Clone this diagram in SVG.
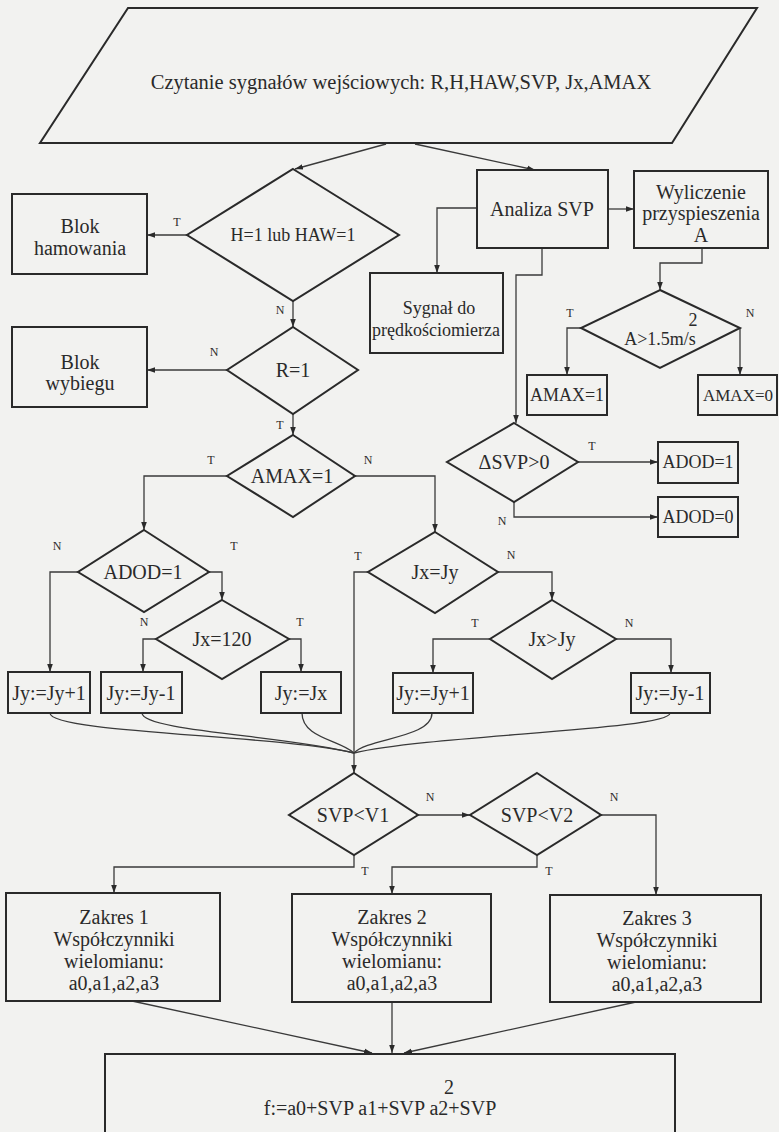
<svg xmlns="http://www.w3.org/2000/svg" width="779" height="1132" viewBox="0 0 779 1132">
<style>
.s{fill:none;stroke:#2a2a2a;stroke-width:2}
.c{fill:none;stroke:#3a3a3a;stroke-width:1.3}
.a{marker-end:url(#ah)}
text{font-family:"Liberation Serif","Times New Roman",serif;fill:#2a2a2a;text-anchor:middle;dominant-baseline:central}
.t{font-size:20px}
.m{font-size:18px}
.l{font-size:12px}
</style>
<defs>
<marker id="ah" viewBox="0 0 10 10" refX="10" refY="5" markerWidth="8" markerHeight="8" markerUnits="userSpaceOnUse" orient="auto">
<path d="M0,1.5 L10,5 L0,8.5 z" fill="#2a2a2a"/>
</marker>
</defs>
<rect width="779" height="1132" fill="#f2f2f0"/>

<g id="connectors">
<path class="c a" d="M386,144 L295,169"/>
<path class="c a" d="M415,144 L535,170"/>
<path class="c a" d="M187,235 L147,235"/>
<path class="c a" d="M293,301 L293,327"/>
<path class="c a" d="M227,370 L147,370"/>
<path class="c a" d="M293,414 L293,435"/>
<path class="c a" d="M227,476 L144,476 L144,530"/>
<path class="c a" d="M355,476 L435,476 L435,532"/>
<path class="c a" d="M78,572 L50,572 L50,672"/>
<path class="c a" d="M209,572 L222,572 L222,600"/>
<path class="c a" d="M156,639 L143,639 L143,672"/>
<path class="c a" d="M289,639 L301,639 L301,672"/>
<path class="c a" d="M368,572 L354,572 L354,773"/>
<path class="c a" d="M498,572 L552,572 L552,600"/>
<path class="c a" d="M490,639 L433,639 L433,673"/>
<path class="c a" d="M616,639 L671,639 L671,673"/>
<path class="c" d="M50,713 C50,733 280,735 354,753"/>
<path class="c" d="M142,713 C142,731 290,736 354,753"/>
<path class="c" d="M302,713 C302,738 340,740 354,753"/>
<path class="c" d="M432,713 C432,738 368,738 354,753"/>
<path class="c" d="M670,713 C670,730 430,735 354,753"/>
<path class="c a" d="M418,815 L470,815"/>
<path class="c a" d="M601,815 L656,815 L656,895"/>
<path class="c a" d="M354,855 L354,867 L114,867 L114,893"/>
<path class="c a" d="M537,855 L537,867 L392,867 L392,894"/>
<path class="c a" d="M132,1001 L372,1053"/>
<path class="c a" d="M392,1002 L392,1053"/>
<path class="c a" d="M636,1002 L404,1053"/>
<path class="c a" d="M477,208 L437,208 L437,273"/>
<path class="c a" d="M542,248 L542,275 L516,275 L516,423"/>
<path class="c a" d="M608,209 L634,209"/>
<path class="c a" d="M702,248 L702,263 L660,263 L660,290"/>
<path class="c a" d="M581,328 L567,328 L567,375"/>
<path class="c a" d="M740,328 L740,375"/>
<path class="c a" d="M578,462 L658,462"/>
<path class="c a" d="M514,502 L514,517 L658,517"/>
<text class="l" x="177" y="222">T</text>
<text class="l" x="280" y="310">N</text>
<text class="l" x="214" y="352">N</text>
<text class="l" x="280" y="425">T</text>
<text class="l" x="211" y="460">T</text>
<text class="l" x="368" y="460">N</text>
<text class="l" x="57" y="546">N</text>
<text class="l" x="234" y="546">T</text>
<text class="l" x="144" y="622">N</text>
<text class="l" x="300" y="622">T</text>
<text class="l" x="358" y="556">T</text>
<text class="l" x="511" y="555">N</text>
<text class="l" x="475" y="623">T</text>
<text class="l" x="629" y="623">N</text>
<text class="l" x="430" y="797">N</text>
<text class="l" x="614" y="797">N</text>
<text class="l" x="365" y="871">T</text>
<text class="l" x="549" y="871">T</text>
<text class="l" x="570" y="313">T</text>
<text class="l" x="750" y="313">N</text>
<text class="l" x="592" y="446">T</text>
<text class="l" x="502" y="521">N</text>
</g>

<g id="input">
<polygon class="s" points="128,8 757,8 672,143 40,143"/>
<text class="t" x="401" y="82" style="font-size:20.5px">Czytanie sygnałów wejściowych: R,H,HAW,SVP, Jx,AMAX</text>
</g>
<g id="d_h">
<polygon class="s" points="293,169 399,235 293,301 187,235"/>
<text class="m" x="293" y="235">H=1 lub HAW=1</text>
</g>
<g id="b_hamowania">
<rect class="s" x="12" y="194" width="135" height="80"/>
<text class="t" x="80" y="226">Blok</text>
<text class="t" x="80" y="248">hamowania</text>
</g>
<g id="b_analiza">
<rect class="s" x="477" y="170" width="131" height="78"/>
<text class="t" x="542" y="209">Analiza SVP</text>
</g>
<g id="b_wyliczenie">
<rect class="s" x="634" y="171" width="134" height="77"/>
<text class="t" x="701" y="192">Wyliczenie</text>
<text class="t" x="701" y="213">przyspieszenia</text>
<text class="t" x="701" y="235">A</text>
</g>
<g id="b_sygnal">
<rect class="s" x="370" y="273" width="133" height="80"/>
<text class="m" x="439" y="308">Sygnał do</text>
<text class="m" x="436" y="330">prędkościomierza</text>
</g>
<g id="d_a">
<polygon class="s" points="660,290 740,328 660,368 581,328"/>
<text class="m" x="693" y="320">2</text>
<text class="m" x="660" y="339">A&gt;1.5m/s</text>
</g>
<g id="b_amax1">
<rect class="s" x="527" y="375" width="80" height="40"/>
<text class="m" x="567" y="395">AMAX=1</text>
</g>
<g id="b_amax0">
<rect class="s" x="698" y="375" width="79" height="40"/>
<text class="m" x="738" y="395" style="font-size:17px">AMAX=0</text>
</g>
<g id="d_r">
<polygon class="s" points="293,327 358,370 293,414 227,370"/>
<text class="t" x="293" y="370">R=1</text>
</g>
<g id="b_wybiegu">
<rect class="s" x="12" y="327" width="135" height="80"/>
<text class="t" x="80" y="362">Blok</text>
<text class="t" x="80" y="383">wybiegu</text>
</g>
<g id="d_dsvp">
<polygon class="s" points="514,423 578,462 514,502 447,462"/>
<text class="t" x="514" y="462">ΔSVP&gt;0</text>
</g>
<g id="b_adod1">
<rect class="s" x="658" y="442" width="80" height="41"/>
<text class="m" x="698" y="462">ADOD=1</text>
</g>
<g id="b_adod0">
<rect class="s" x="658" y="497" width="80" height="40"/>
<text class="m" x="698" y="517">ADOD=0</text>
</g>
<g id="d_amax">
<polygon class="s" points="293,435 355,476 293,517 227,476"/>
<text class="t" x="292" y="476">AMAX=1</text>
</g>
<g id="d_adod">
<polygon class="s" points="144,530 209,572 144,612 78,572"/>
<text class="t" x="143" y="572">ADOD=1</text>
</g>
<g id="d_jx120">
<polygon class="s" points="222,600 289,639 222,679 156,639"/>
<text class="t" x="222" y="639">Jx=120</text>
</g>
<g id="b_jy1">
<rect class="s" x="8" y="672" width="82" height="41"/>
<text class="t" x="49" y="693">Jy:=Jy+1</text>
</g>
<g id="b_jy2">
<rect class="s" x="101" y="672" width="81" height="41"/>
<text class="t" x="141" y="693">Jy:=Jy-1</text>
</g>
<g id="b_jy3">
<rect class="s" x="261" y="672" width="80" height="41"/>
<text class="t" x="301" y="693">Jy:=Jx</text>
</g>
<g id="d_jxjy">
<polygon class="s" points="435,532 498,572 435,613 368,572"/>
<text class="t" x="435" y="572">Jx=Jy</text>
</g>
<g id="d_jxgt">
<polygon class="s" points="552,600 616,639 552,679 490,639"/>
<text class="t" x="552" y="639">Jx&gt;Jy</text>
</g>
<g id="b_jy4">
<rect class="s" x="393" y="673" width="80" height="40"/>
<text class="t" x="433" y="693">Jy:=Jy+1</text>
</g>
<g id="b_jy5">
<rect class="s" x="631" y="673" width="79" height="40"/>
<text class="t" x="670" y="693">Jy:=Jy-1</text>
</g>
<g id="d_v1">
<polygon class="s" points="354,773 418,815 354,855 289,815"/>
<text class="t" x="353" y="815">SVP&lt;V1</text>
</g>
<g id="d_v2">
<polygon class="s" points="537,773 601,815 537,855 470,815"/>
<text class="t" x="537" y="815">SVP&lt;V2</text>
</g>
<g id="b_z1">
<rect class="s" x="6" y="893" width="214" height="108"/>
<text class="t" x="114" y="917">Zakres 1</text>
<text class="t" x="114" y="939">Współczynniki</text>
<text class="t" x="114" y="961">wielomianu:</text>
<text class="t" x="114" y="983">a0,a1,a2,a3</text>
</g>
<g id="b_z2">
<rect class="s" x="292" y="894" width="199" height="108"/>
<text class="t" x="392" y="917">Zakres 2</text>
<text class="t" x="392" y="939">Współczynniki</text>
<text class="t" x="392" y="961">wielomianu:</text>
<text class="t" x="392" y="983">a0,a1,a2,a3</text>
</g>
<g id="b_z3">
<rect class="s" x="550" y="895" width="211" height="107"/>
<text class="t" x="657" y="918">Zakres 3</text>
<text class="t" x="657" y="940">Współczynniki</text>
<text class="t" x="657" y="962">wielomianu:</text>
<text class="t" x="657" y="984">a0,a1,a2,a3</text>
</g>
<g id="b_f">
<rect class="s" x="105" y="1054" width="570" height="90"/>
<text class="t" x="449" y="1087">2</text>
<text class="t" x="380" y="1108">f:=a0+SVP a1+SVP a2+SVP</text>
</g>
</svg>
